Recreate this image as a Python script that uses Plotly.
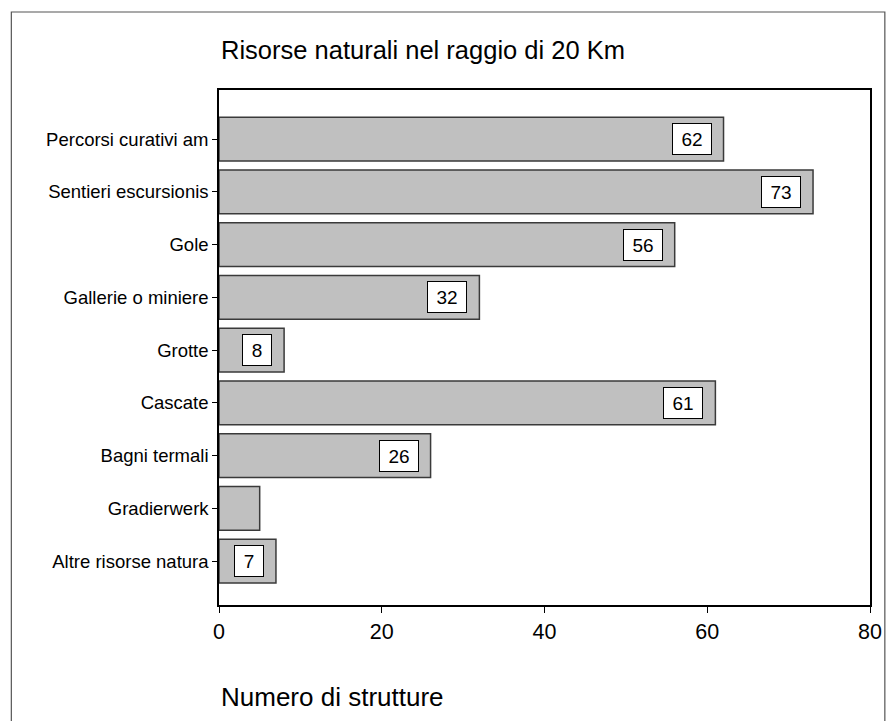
import plotly.graph_objects as go

categories = ["Percorsi curativi am", "Sentieri escursionis", "Gole", "Gallerie o miniere",
              "Grotte", "Cascate", "Bagni termali", "Gradierwerk", "Altre risorse natura"]
values = [62, 73, 56, 32, 8, 61, 26, 5, 7]
labels = ["62", "73", "56", "32", "8", "61", "26", "", "7"]
x_ticks = [0, 20, 40, 60, 80]

FONT = "Arial, Liberation Sans, sans-serif"

fig = go.Figure()
fig.add_trace(go.Bar(
    y=categories, x=values, orientation="h", width=0.83,
    marker=dict(color="#c0c0c0", line=dict(color="#3a3a3a", width=1.5)),
    hoverinfo="x+y",
))

annotations = []
for c, v, lab in zip(categories, values, labels):
    if not lab:
        continue
    annotations.append(dict(
        x=v, y=c, xref="x", yref="y", text=lab, showarrow=False,
        xanchor="right", xshift=-12,
        width=len(lab) * 10 + 18, height=30, align="center", valign="middle",
        font=dict(family=FONT, size=19, color="black"),
        bgcolor="white", bordercolor="black", borderwidth=1, borderpad=0,
    ))

annotations.append(dict(
    x=0, y=1.077, xref="paper", yref="paper", text="Risorse naturali nel raggio di 20 Km",
    showarrow=False, xanchor="left", yanchor="middle",
    font=dict(family=FONT, size=25.5, color="black"),
))
annotations.append(dict(
    x=0, y=-0.178, xref="paper", yref="paper", text="Numero di strutture",
    showarrow=False, xanchor="left", yanchor="middle",
    font=dict(family=FONT, size=26, color="black"),
))

fig.update_layout(
    width=886, height=713,
    margin=dict(l=211, r=17, t=82, b=116),
    plot_bgcolor="white", paper_bgcolor="white",
    showlegend=False, bargap=0.17,
    annotations=annotations,
    shapes=[dict(type="rect", xref="paper", yref="paper",
                 x0=-0.319, x1=1.0228, y0=-0.3, y1=1.1515,
                 line=dict(color="#555555", width=1.2), fillcolor="rgba(0,0,0,0)", layer="below")],
    xaxis=dict(range=[0, 80], tickvals=x_ticks, ticktext=[str(t) for t in x_ticks],
               showgrid=False, zeroline=False, showline=True, linecolor="black", linewidth=1.5,
               mirror=True, ticks="outside", ticklen=6, tickcolor="black",
               tickfont=dict(family=FONT, size=21.5, color="black")),
    yaxis=dict(categoryorder="array", categoryarray=categories, range=[8.83, -0.93],
               showgrid=False, zeroline=False, showline=True, linecolor="black", linewidth=1.5,
               mirror=True, ticks="outside", ticklen=5, tickcolor="black",
               tickfont=dict(family=FONT, size=18.5, color="black")),
)

fig.write_html("out.html")
